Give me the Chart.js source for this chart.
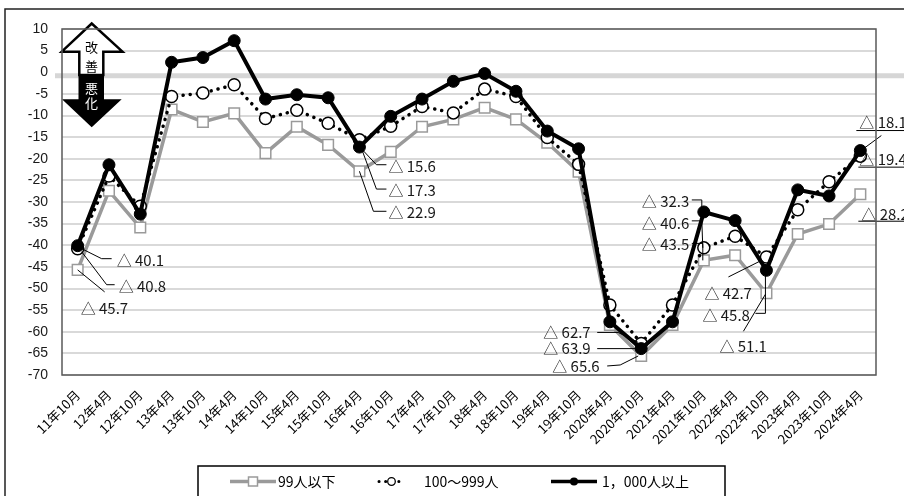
<!DOCTYPE html>
<html><head><meta charset="utf-8">
<script src="https://cdn.jsdelivr.net/npm/chart.js@4/dist/chart.umd.min.js"></script>
<style>html,body{margin:0;padding:0;background:#fff;}#wrap{width:904px;height:496px;position:relative;overflow:hidden;}</style>
</head><body><div id="wrap"><canvas id="c" width="904" height="496"></canvas></div>
<script>
// ---- data ----
const categories = ['11年10月','12年4月','12年10月','13年4月','13年10月','14年4月','14年10月','15年4月','15年10月','16年4月','16年10月','17年4月','17年10月','18年4月','18年10月','19年4月','19年10月','2020年4月','2020年10月','2021年4月','2021年10月','2022年4月','2022年10月','2023年4月','2023年10月','2024年4月'];
const seriesNames = ['99人以下','100～999人','1，000人以上'];
const small = [-45.7,-27.4,-35.9,-8.6,-11.5,-9.5,-18.7,-12.6,-16.8,-22.9,-18.4,-12.6,-10.9,-8.2,-10.9,-16.3,-23.0,-58.4,-65.6,-58.4,-43.5,-42.3,-51.1,-37.4,-35.1,-28.2];
const mid = [-40.8,-24.0,-31.0,-5.6,-4.8,-2.9,-10.7,-8.8,-11.8,-15.6,-12.5,-7.9,-9.4,-3.9,-5.6,-15.1,-21.3,-53.8,-62.7,-53.8,-40.6,-37.9,-42.7,-31.8,-25.3,-19.4];
const large = [-40.1,-21.4,-32.8,2.3,3.4,7.3,-6.2,-5.2,-5.9,-17.3,-10.2,-6.2,-2.1,-0.3,-4.4,-13.6,-17.7,-57.7,-63.9,-57.7,-32.3,-34.3,-45.8,-27.2,-28.6,-18.1];
const yMin = -70, yMax = 10, yStep = 5;

// annotation labels: series index, category index, text (offsets are layout, relative to the data point)
const notes = [
  {s:2,i:0,t:'△ 40.1',tx:39,ty:15,lead:[[2,2],[24,13],[34,13]]},
  {s:1,i:0,t:'△ 40.8',tx:41,ty:38,lead:[[4,3],[29,36],[37,36]]},
  {s:0,i:0,t:'△ 45.7',tx:3,ty:38,lead:[[0,0],[27,22]]},
  {s:1,i:9,t:'△ 15.6',tx:29,ty:27,lead:[[2,9],[17,25],[27,25]]},
  {s:2,i:9,t:'△ 17.3',tx:29,ty:43,lead:[[3,4],[17,42],[27,42]]},
  {s:0,i:9,t:'△ 22.9',tx:29,ty:41,lead:[[0,0],[14,40],[27,40]]},
  {s:2,i:20,t:'△ 32.3',tx:-62,ty:-11,lead:[[-12,-12],[-2,-12],[-2,0]]},
  {s:1,i:20,t:'△ 40.6',tx:-62,ty:-25,lead:[[-12,-27],[-2,-27],[-1,0]]},
  {s:0,i:20,t:'△ 43.5',tx:-62,ty:-16,lead:[[-12,-17],[-1,-17],[-1,0]]},
  {s:1,i:22,t:'△ 42.7',tx:-62,ty:36,lead:[[-38,20],[-6,4]]},
  {s:2,i:22,t:'△ 45.8',tx:-64,ty:45,lead:[[-11,43],[-1,43],[-1,5]]},
  {s:0,i:22,t:'△ 51.1',tx:-47,ty:53,lead:[[-23,38],[-1,1]]},
  {s:1,i:18,t:'△ 62.7',tx:-98,ty:-11,lead:[[-44,-11],[-23,-11],[-3,-1]]},
  {s:2,i:18,t:'△ 63.9',tx:-98,ty:0,lead:[[-44,0],[-5,0]]},
  {s:0,i:18,t:'△ 65.6',tx:-89,ty:10,lead:[[-34,10],[-21,9],[-3,0]]},
  {s:2,i:25,t:'△ 18.1',tx:-1,ty:-28,lead:[[21,-15],[2,-1]],ul:[-4,50,-20]},
  {s:1,i:25,t:'△ 19.4',tx:-1,ty:3,lead:[],ul:[-2,50,11]},
  {s:0,i:25,t:'△ 28.2',tx:1,ty:20,lead:[],ul:[-2,50,27]}
];

const GRAY = '#9a9a9a';
const JP = '"Noto Sans CJK JP", "Liberation Sans", sans-serif';

const deco = {
  id:'deco',
  beforeDatasetsDraw(chart){
    const ctx = chart.ctx, y = chart.scales.y, a = chart.chartArea;
    const y0 = y.getPixelForValue(0) + 3.5;
    ctx.save();
    ctx.strokeStyle = '#d6d6d6'; ctx.lineWidth = 5;
    ctx.beginPath(); ctx.moveTo(a.left - 7, y0); ctx.lineTo(904, y0); ctx.stroke();
    ctx.restore();
  },
  afterDatasetsDraw(chart){
    const ctx = chart.ctx, a = chart.chartArea;
    ctx.save();
    // arrows
    ctx.lineJoin = 'miter';
    ctx.beginPath();
    ctx.moveTo(91.7,23.5); ctx.lineTo(122.5,51.7); ctx.lineTo(103.3,51.7); ctx.lineTo(103.3,75);
    ctx.lineTo(79.3,75); ctx.lineTo(79.3,51.7); ctx.lineTo(61.7,51.7); ctx.closePath();
    ctx.fillStyle = '#fff'; ctx.fill(); ctx.strokeStyle = '#000'; ctx.lineWidth = 2.5; ctx.stroke();
    ctx.beginPath();
    ctx.moveTo(78.5,74); ctx.lineTo(104,74); ctx.lineTo(104,99.3); ctx.lineTo(121.7,99.3);
    ctx.lineTo(91.7,127.3); ctx.lineTo(62,99.3); ctx.lineTo(78.5,99.3); ctx.closePath();
    ctx.fillStyle = '#000'; ctx.fill();
    ctx.font = '13px ' + JP; ctx.textAlign = 'center'; ctx.textBaseline = 'middle';
    ctx.fillStyle = '#000'; ctx.fillText('改', 91.5, 47.5); ctx.fillText('善', 91.5, 66);
    ctx.fillStyle = '#fff'; ctx.fillText('悪', 91.5, 88); ctx.fillText('化', 91.5, 103.5);

    // annotations
    ctx.font = '15px ' + JP; ctx.textAlign = 'left'; ctx.textBaseline = 'middle';
    ctx.fillStyle = '#1a1a1a'; ctx.strokeStyle = '#000'; ctx.lineWidth = 1;
    notes.forEach(n => {
      const p = chart.getDatasetMeta(n.s).data[n.i];
      ctx.fillText(n.t, p.x + n.tx, p.y + n.ty);
      if (n.lead.length) {
        ctx.beginPath();
        n.lead.forEach((d,k) => { const X = p.x + d[0], Y = p.y + d[1]; k ? ctx.lineTo(X,Y) : ctx.moveTo(X,Y); });
        ctx.stroke();
      }
      if (n.ul) {
        ctx.beginPath(); ctx.moveTo(p.x + n.ul[0], p.y + n.ul[2]); ctx.lineTo(p.x + n.ul[1], p.y + n.ul[2]); ctx.stroke();
      }
    });

    // plot border
    ctx.strokeStyle = '#595959'; ctx.lineWidth = 1.5;
    ctx.strokeRect(a.left, a.top, a.right - a.left, a.bottom - a.top);
    // outer border
    ctx.strokeStyle = '#222'; ctx.lineWidth = 1.5;
    ctx.beginPath(); ctx.moveTo(5, 500); ctx.lineTo(5, 9); ctx.lineTo(910, 9); ctx.stroke();

    // legend
    const ly = 481.5;
    ctx.strokeStyle = '#000'; ctx.lineWidth = 1.5;
    ctx.strokeRect(198, 466, 527, 40);
    const ds = chart.data.datasets;
    ctx.font = '14px ' + JP; ctx.fillStyle = '#000'; ctx.textBaseline = 'middle';
    // item 1
    ctx.strokeStyle = GRAY; ctx.lineWidth = 3.5; ctx.setLineDash([]);
    ctx.beginPath(); ctx.moveTo(230, ly); ctx.lineTo(276, ly); ctx.stroke();
    ctx.fillStyle = '#fff'; ctx.lineWidth = 1.5; ctx.fillRect(248.5, ly - 4.5, 9, 9); ctx.strokeRect(248.5, ly - 4.5, 9, 9);
    ctx.fillStyle = '#000'; ctx.fillText(ds[0].label, 278, ly);
    // item 2
    ctx.strokeStyle = '#000'; ctx.lineWidth = 3; ctx.lineCap = 'round'; ctx.setLineDash([0.1, 6.5]);
    ctx.beginPath(); ctx.moveTo(379, ly); ctx.lineTo(404, ly); ctx.stroke();
    ctx.setLineDash([]); ctx.lineCap = 'butt';
    ctx.fillStyle = '#fff'; ctx.lineWidth = 1.3; ctx.beginPath(); ctx.arc(391.5, ly, 3.8, 0, Math.PI*2); ctx.fill(); ctx.stroke();
    ctx.fillStyle = '#000'; ctx.fillText(ds[1].label, 424, ly);
    // item 3
    ctx.lineWidth = 3.5; ctx.beginPath(); ctx.moveTo(551, ly); ctx.lineTo(597, ly); ctx.stroke();
    ctx.beginPath(); ctx.arc(574, ly, 4, 0, Math.PI*2); ctx.fill();
    ctx.fillText(ds[2].label, 602, ly);
    ctx.restore();
  }
};

new Chart(document.getElementById('c'), {
  type: 'line',
  data: {
    labels: categories,
    datasets: [
      {label: seriesNames[0], data: small, order: 3, borderColor: GRAY, borderWidth: 3.5,
       pointStyle: 'rect', pointRadius: 7.5, pointBackgroundColor: '#fff', pointBorderColor: GRAY, pointBorderWidth: 1.5, tension: 0},
      {label: seriesNames[1], data: mid, order: 2, borderColor: '#000', borderWidth: 3.5, borderDash: [0.1, 7], borderCapStyle: 'round',
       pointStyle: 'circle', pointRadius: 6, pointBackgroundColor: '#fff', pointBorderColor: '#000', pointBorderWidth: 1.5, tension: 0},
      {label: seriesNames[2], data: large, order: 1, borderColor: '#000', borderWidth: 4,
       pointStyle: 'circle', pointRadius: 6, pointBackgroundColor: '#000', pointBorderColor: '#000', pointBorderWidth: 1, tension: 0}
    ]
  },
  options: {
    responsive: false, animation: false, devicePixelRatio: 1,
    layout: {padding: {left: 0, top: 29, right: 28, bottom: 0}},
    plugins: {legend: {display: false}, tooltip: {enabled: false}},
    scales: {
      x: {
        type: 'category', offset: true,
        grid: {display: false, drawTicks: false}, border: {display: false},
        ticks: {autoSkip: false, minRotation: 45, maxRotation: 45, padding: 12, color: '#000', font: {family: JP, size: 13}},
        afterFit(s){ s.height = 121; }
      },
      y: {
        min: yMin, max: yMax,
        grid: {color: c => c.tick && c.tick.value === 0 ? 'rgba(0,0,0,0)' : '#d9d9d9', lineWidth: 2, drawTicks: false},
        border: {display: false},
        ticks: {stepSize: yStep, padding: 14, color: '#1a1a1a', font: {family: '"Liberation Sans", sans-serif', size: 14}},
        afterFit(s){ s.width = 62; }
      }
    }
  },
  plugins: [deco]
});
</script></body></html>
